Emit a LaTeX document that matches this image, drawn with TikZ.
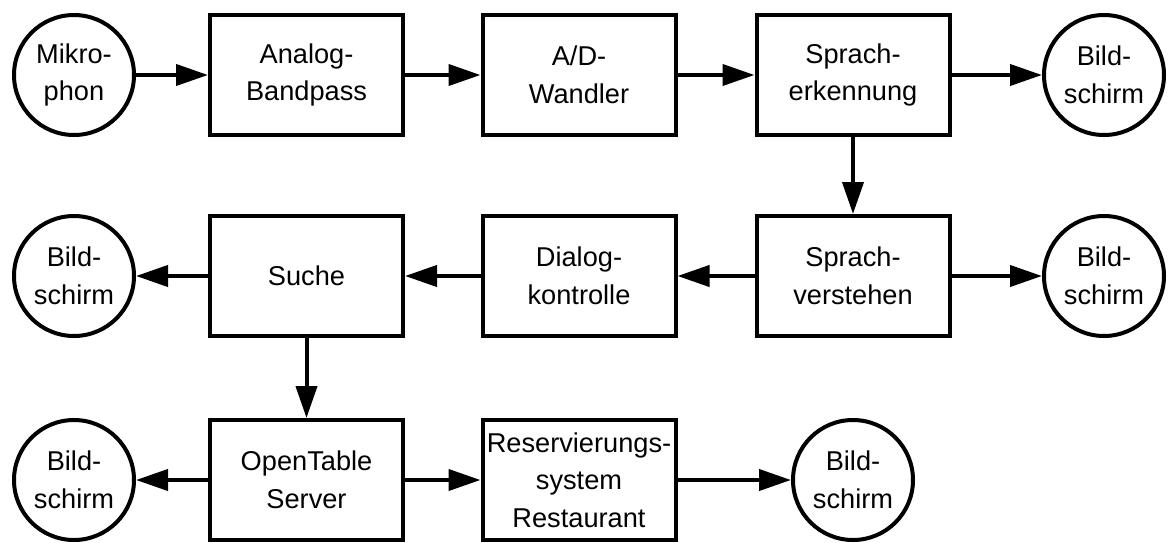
\documentclass[tikz,border=0pt]{standalone}
\usepackage{fontspec}
\setmainfont{Liberation Sans}
\usetikzlibrary{arrows.meta}

\begin{document}
\begin{tikzpicture}[x=0.5pt,y=-0.5pt]
\tikzstyle{every node}+=[inner sep=0pt,align=center,font=\fontsize{13.6}{18.8}\selectfont]
\tikzstyle{block}=[draw=black,line width=2pt,minimum width=96.5pt,minimum height=60pt]
\tikzstyle{disc}=[draw=black,circle,line width=2pt,minimum size=60pt]
\tikzstyle{flow}=[black,line width=2pt,-{Triangle[length=16pt,width=10.5pt]}]
\useasboundingbox (0,0) rectangle (1169,542);
% first row
\node [disc] (mic) at (74,75) {Mikro-\\phon};
\node [block] (bandpass) at (306.5,75) {Analog-\\Bandpass};
\node [block] (wandler) at (579,75) {A/D-\\Wandler};
\node [block] (erkennung) at (853,75) {Sprach-\\erkennung};
\node [disc] (screenA) at (1104,75) {Bild-\\schirm};
% second row
\node [disc] (screenB) at (74,276) {Bild-\\schirm};
\node [block] (suche) at (306.5,276) {Suche};
\node [block] (dialog) at (579,276) {Dialog-\\kontrolle};
\node [block] (verstehen) at (853,276) {Sprach-\\verstehen};
\node [disc] (screenC) at (1104,276) {Bild-\\schirm};
% third row
\node [disc] (screenD) at (74,480) {Bild-\\schirm};
\node [block] (opentable) at (306.5,480) {OpenTable\\Server};
\node [block] (reserv) at (579,480) {Reservierungs-\\system\\Restaurant};
\node [disc] (screenE) at (853,480) {Bild-\\schirm};
% connectors
\draw [flow] (mic) -- (bandpass);
\draw [flow] (bandpass) -- (wandler);
\draw [flow] (wandler) -- (erkennung);
\draw [flow] (erkennung) -- (screenA);
\draw [flow] (erkennung) -- (verstehen);
\draw [flow] (verstehen) -- (screenC);
\draw [flow] (verstehen) -- (dialog);
\draw [flow] (dialog) -- (suche);
\draw [flow] (suche) -- (screenB);
\draw [flow] (suche) -- (opentable);
\draw [flow] (opentable) -- (screenD);
\draw [flow] (opentable) -- (reserv);
\draw [flow] (reserv) -- (screenE);
\end{tikzpicture}
\end{document}
